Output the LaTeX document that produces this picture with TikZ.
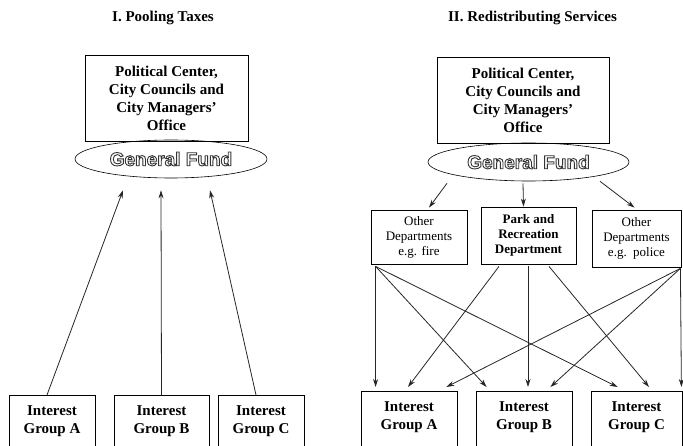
\documentclass[tikz,border=0pt]{standalone}
\usepackage{fontspec}
\setmainfont{Liberation Serif}
\newfontfamily\fundfont{Liberation Sans}
\usetikzlibrary{arrows.meta,shapes.geometric}

% outlined lettering for the fund
\newcommand{\outlinetext}[1]{{\color{black!80}\special{pdf:literal direct 1 Tr 0.9 w}#1\special{pdf:literal direct 0 Tr}}}

\begin{document}
\begin{tikzpicture}[x=1pt, y=-1pt,
    box/.style={draw, line width=0.8pt, align=center, inner sep=0pt, font=\fontsize{15}{18}\selectfont\bfseries},
    fund/.style={draw, ellipse, line width=0.6pt, inner sep=0pt, font=\fontsize{19}{22}\selectfont\fundfont\bfseries},
    dept/.style={draw, line width=0.8pt, align=center, inner sep=0pt, font=\fontsize{13}{15}\selectfont},
    group/.style={draw, line width=0.8pt, align=center, anchor=north, inner sep=3pt, text height=35pt, text depth=25pt, font=\fontsize{15}{18}\selectfont\bfseries},
    title/.style={font=\fontsize{15}{18}\selectfont\bfseries},
    arrow/.style={-{Stealth[length=8pt,width=5pt]}, line width=0.8pt, black!85}
]
\useasboundingbox (0,0) rectangle (683,446);
\clip (0,0) rectangle (683,446);

% I. Pooling taxes
\node[title] (title1) at (163,18) {I. Pooling Taxes};
\node[box, minimum width=163, minimum height=86] (center1) at (166.5,98) {Political Center,\\City Councils and\\City Managers'\\Office};
\node[fund, minimum width=192, minimum height=38] (fund1) at (171,159) {\outlinetext{General Fund}};

\node[group, minimum width=86] (gA1) at (52,395) {Interest\\Group A};
\node[group, minimum width=95] (gB1) at (161.5,395) {Interest\\Group B};
\node[group, minimum width=86] (gC1) at (261,395) {Interest\\Group C};

% taxes flow up to the fund
\draw[arrow] ([xshift=-5pt]gA1.north) -- ([xshift=-48pt,yshift=-12pt]fund1.south);
\draw[arrow] (gB1.north) -- ([xshift=-10pt,yshift=-12pt]fund1.south);
\draw[arrow] ([xshift=-5pt]gC1.north) -- ([xshift=39pt,yshift=-12pt]fund1.south);

% II. Redistributing services
\node[title] (title2) at (532.5,18) {II. Redistributing Services};
\node[box, minimum width=172, minimum height=86] (center2) at (523,100) {Political Center,\\City Councils and\\City Managers'\\Office};
\node[fund, minimum width=201, minimum height=38] (fund2) at (528.5,162) {\outlinetext{General Fund}};

% departments
\node[dept, minimum width=96, minimum height=54] (fire) at (419,237) {Other\\Departments\\e.g. fire};
\node[dept, font=\fontsize{13}{15}\selectfont\bfseries, minimum width=95, minimum height=57] (park) at (528.5,235.5) {Park and\\Recreation\\Department};
\node[dept, minimum width=89, minimum height=57] (police) at (636.5,238.5) {Other\\Departments\\e.g.\ \ police};

\draw[arrow] ([xshift=-81.5pt,yshift=-2pt]fund2.south) -- ([xshift=10pt,yshift=2pt]fire.north);
\draw[arrow] ([xshift=-5.5pt,yshift=-2pt]fund2.south) -- ([xshift=-5pt]park.north);
\draw[arrow] ([xshift=71.5pt]fund2.south) -- ([xshift=-2pt,yshift=2pt]police.north);

% interest groups
\node[group, minimum width=96] (gA2) at (409,391) {Interest\\Group A};
\node[group, minimum width=96] (gB2) at (524,391) {Interest\\Group B};
\node[group, minimum width=91] (gC2) at (636.5,391) {Interest\\Group C};

% services to every group
\draw[arrow] ([xshift=5pt,yshift=-2pt]fire.south west) -- ([xshift=15pt,yshift=4pt]gA2.north west);
\draw[arrow] ([xshift=5pt,yshift=-2pt]fire.south west) -- ([xshift=11pt,yshift=4pt]gB2.north west);
\draw[arrow] ([xshift=5pt,yshift=-2pt]fire.south west) -- ([xshift=27pt,yshift=4pt]gC2.north west);

\draw[arrow] ([xshift=-29.5pt,yshift=-2pt]park.south) -- ([xshift=-1pt,yshift=4pt]gA2.north);
\draw[arrow] ([xshift=-0.5pt,yshift=-2pt]park.south) -- ([xshift=4pt,yshift=4pt]gB2.north);
\draw[arrow] ([xshift=20.5pt,yshift=-2pt]park.south) -- ([xshift=12.5pt,yshift=4pt]gC2.north);

\draw[arrow] ([xshift=-1pt,yshift=-1pt]police.south east) -- ([xshift=-11pt,yshift=4pt]gA2.north east);
\draw[arrow] ([xshift=-1pt,yshift=-1pt]police.south east) -- ([xshift=-22pt,yshift=4pt]gB2.north east);
\draw[arrow] ([xshift=-1pt,yshift=-1pt]police.south east) -- ([xshift=-1pt,yshift=4pt]gC2.north east);

\end{tikzpicture}
\end{document}
